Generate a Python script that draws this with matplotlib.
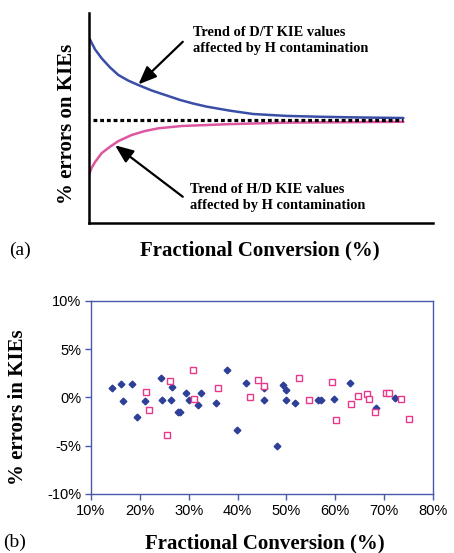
import matplotlib.pyplot as plt
from matplotlib.ticker import FuncFormatter

# panel (a): schematic trend curves (arbitrary units, 0-100)
dt_x = [0, 1.66, 3.61, 6.02, 8.44, 11.35, 14.26, 18.16, 22.0, 26.4, 30.2, 34.2,
        40.9, 47.7, 57.4, 67.1, 76.8, 91.4]
dt_y = [88.0, 82.7, 78.4, 74.1, 70.5, 67.8, 65.7, 63.1, 61.0, 58.6, 56.9, 55.4,
        53.5, 51.9, 51.0, 50.6, 50.3, 50.0]
hd_x = [0, 0.64, 1.66, 3.61, 6.02, 8.44, 12.3, 16.2, 20.1, 26.9, 40.9, 57.4, 91.4]
hd_y = [23.3, 26.2, 29.0, 33.3, 36.3, 39.0, 41.9, 43.8, 45.1, 46.2, 47.1, 47.8, 48.2]
ref_x = [1.2, 91.4]
ref_y = [48.9, 48.9]

# panel (b): measured % errors vs fractional conversion (%)
blue_x = [14.3, 16.2, 16.5, 18.3, 19.4, 21.1, 24.4, 24.6, 26.5, 26.4, 27.8, 28.3,
          29.5, 30.0, 32.0, 32.6, 35.5, 37.9, 39.8, 41.7, 45.5, 45.5, 49.3, 49.9,
          49.9, 51.7, 48.1, 56.5, 57.1, 59.8, 63.0, 68.3, 72.3]
blue_y = [1.0, 1.35, -0.38, 1.35, -2.04, -0.38, 2.0, -0.31, 1.07, -0.21, -1.52, -1.52,
          0.51, -0.21, -0.8, 0.51, -0.59, 2.9, -3.35, 1.55, -0.31, 1.0, 1.27, 0.79,
          -0.21, -0.59, -5.0, -0.31, -0.31, -0.14, 1.51, -1.04, -0.04]
pink_x = [21.3, 21.9, 25.6, 26.2, 30.8, 31.0, 36.1, 42.5, 44.1, 45.5, 52.6, 54.7,
          59.4, 60.1, 63.2, 64.6, 66.5, 66.9, 68.2, 70.4, 71.0, 73.5, 75.1]
pink_y = [0.62, -1.31, -3.9, 1.76, 2.8, -0.14, 0.96, 0.03, 1.79, 1.2, 1.97, -0.25,
          1.62, -2.35, -0.69, 0.13, 0.41, -0.14, -1.52, 0.51, 0.51, -0.14, -2.25]

serif = 'Liberation Serif'
sans = 'Liberation Sans'
axis_blue = '#4a58aa'

fig = plt.figure(figsize=(4.54, 5.53), dpi=100)

# ---- panel (a)
axa = fig.add_axes([0.1967, 0.5967, 0.757, 0.3798])
axa.plot(dt_x, dt_y, color='#3a4ea8', lw=1.8, solid_capstyle='round', solid_joinstyle='round')
axa.plot(hd_x, hd_y, color='#de569f', lw=1.8, solid_capstyle='round', solid_joinstyle='round')
axa.plot(ref_x, ref_y, color='black', lw=2.3, ls=(0, (1.2, 0.9)))
axa.set_xlim(0, 100)
axa.set_ylim(0, 100)
axa.set_xticks([])
axa.set_yticks([])
for s in ['top', 'right']:
    axa.spines[s].set_visible(False)
for s in ['left', 'bottom']:
    axa.spines[s].set_linewidth(1.8)

arrow = dict(arrowstyle='-|>,head_length=1.1,head_width=0.45', color='black', lw=1.6,
             shrinkA=0, shrinkB=0)
axa.annotate('', xy=(14.3, 66.0), xytext=(27.2, 86.3), arrowprops=arrow)
axa.annotate('', xy=(7.5, 37.0), xytext=(27.2, 12.5), arrowprops=arrow)
axa.text(30.1, 86.7, 'Trend of D/T KIE values\naffected by H contamination',
         family=serif, weight='bold', fontsize=10.4, va='center', ha='left', linespacing=1.3)
axa.text(29.3, 12.1, 'Trend of H/D KIE values\naffected by H contamination',
         family=serif, weight='bold', fontsize=10.4, va='center', ha='left', linespacing=1.3)

axa.set_ylabel('% errors on KIEs', family=serif, weight='bold', fontsize=15)
axa.yaxis.set_label_coords(-0.035, 0.47)
axa.set_xlabel('Fractional Conversion (%)', family=serif, weight='bold', fontsize=15)
axa.xaxis.set_label_coords(0.497, -0.082)
fig.text(20 / 454, 1 - 250 / 553, '(a)', family=serif, fontsize=14, ha='center', va='center')

# ---- panel (b)
axb = fig.add_axes([0.2004, 0.1067, 0.7533, 0.349])
axb.plot(blue_x, blue_y, ls='none', marker='D', ms=3.4, color='#2e3f98', mec='#2e3f98')
axb.plot(pink_x, pink_y, ls='none', marker='s', ms=4.8, mfc='white', mec='#e8388c', mew=1.0)
axb.set_xlim(10, 80)
axb.set_ylim(-10, 10)
axb.set_xticks(range(10, 81, 10))
axb.set_yticks([-10, -5, 0, 5, 10])
axb.xaxis.set_major_formatter(FuncFormatter(lambda v, p: f'{v:.0f}%'))
axb.yaxis.set_major_formatter(FuncFormatter(lambda v, p: f'{v:.0f}%'))
for s in axb.spines.values():
    s.set_color(axis_blue)
    s.set_linewidth(1.0)
axb.tick_params(direction='out', length=4, width=1, color=axis_blue, labelsize=10.5, pad=3)
for lab in axb.get_xticklabels() + axb.get_yticklabels():
    lab.set_family(sans)

axb.set_ylabel('% errors in KIEs', family=serif, weight='bold', fontsize=15)
axb.yaxis.set_label_coords(-0.183, 0.45)
axb.set_xlabel('Fractional Conversion (%)', family=serif, weight='bold', fontsize=15)
axb.xaxis.set_label_coords(0.509, -0.205)
fig.text(15 / 454, 1 - 542 / 553, '(b)', family=serif, fontsize=14, ha='center', va='center')

fig.savefig('out.png', dpi=100)
